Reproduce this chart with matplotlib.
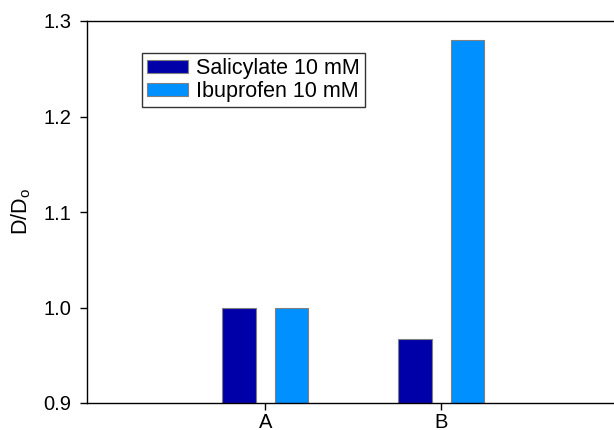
import matplotlib
matplotlib.use("Agg")
import matplotlib.pyplot as plt
import numpy as np

plt.rcParams['font.family'] = ['Liberation Sans', 'DejaVu Sans']

categories = ["A", "B"]
salicylate = [1.0, 0.967]
ibuprofen = [1.0, 1.28]
series_labels = ["Salicylate 10 mM", "Ibuprofen 10 mM"]
yticks = [0.9, 1.0, 1.1, 1.2, 1.3]

fig = plt.figure(figsize=(6.14, 4.3), dpi=100)
ax = fig.add_axes([87/614, 27/430, 530/614, 382/430])

x = np.arange(1, len(categories) + 1)
w = 0.19
off = 0.15
ax.bar(x - off, np.array(salicylate) - 0.9, w, bottom=0.9, color="#0000A8",
       edgecolor="#808080", linewidth=0.8, label=series_labels[0], zorder=2)
ax.bar(x + off, np.array(ibuprofen) - 0.9, w, bottom=0.9, color="#0090FF",
       edgecolor="#808080", linewidth=0.8, label=series_labels[1], zorder=2)

ax.set_xlim(-0.015, 3.0)
ax.set_ylim(0.9, 1.3)
ax.set_xticks(x)
ax.set_xticklabels(categories, fontsize=14.5)
ax.set_yticks(yticks)
ax.set_yticklabels([f"{v:.1f}" for v in yticks], fontsize=14.5)
ax.tick_params(axis="y", direction="out", length=5, width=1, pad=6)
ax.tick_params(axis="x", direction="out", length=5, width=1, pad=2)
ax.set_ylabel(r"D/D$_\mathregular{o}$", fontsize=15.5, labelpad=8)
for s in ax.spines.values():
    s.set_linewidth(1)

leg = ax.legend(loc="upper left", bbox_to_anchor=(0.104, 0.915), fontsize=15.5,
                frameon=True, fancybox=False, edgecolor="black",
                handlelength=1.9, handleheight=0.55, borderpad=0.22,
                labelspacing=0.1, handletextpad=0.4, borderaxespad=0)
leg.get_frame().set_linewidth(1)

fig.savefig("out.png", dpi=100)
